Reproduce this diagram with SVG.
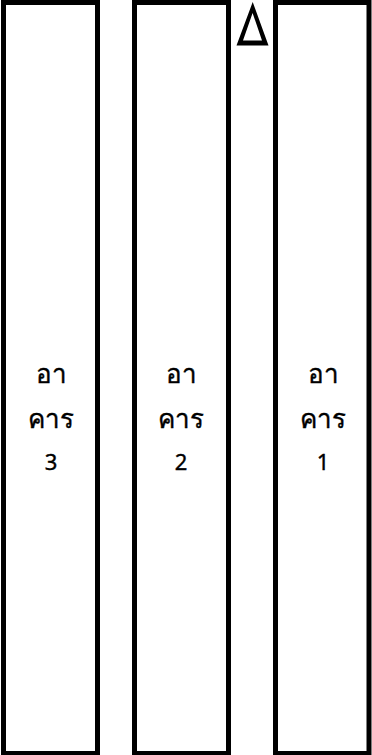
<svg xmlns="http://www.w3.org/2000/svg" width="372" height="755" viewBox="0 0 372 755">
<style>
.b{fill:#fff;stroke:#000;stroke-width:5}
.t{font-family:"Noto Sans","DejaVu Sans",sans-serif;font-size:26px;fill:#000;stroke:#000;stroke-width:0.4;text-anchor:middle}
.n{font-size:22px}
</style>
<rect width="372" height="755" fill="#fff"/>
<g id="building3">
<rect class="b" x="3.5" y="2.5" width="94" height="751"/>
<text class="t" x="51" y="383">อา</text>
<text class="t" x="51" y="428">คาร</text>
<text class="t n" x="51" y="470">3</text>
</g>
<g id="building2">
<rect class="b" x="134.5" y="2.5" width="94" height="751"/>
<text class="t" x="181" y="383">อา</text>
<text class="t" x="181" y="428">คาร</text>
<text class="t n" x="181" y="470">2</text>
</g>
<g id="building1">
<rect class="b" x="275.5" y="2.5" width="93.5" height="751"/>
<text class="t" x="323" y="383">อา</text>
<text class="t" x="323" y="428">คาร</text>
<text class="t n" x="323" y="470">1</text>
</g>
<g id="north-marker">
<path d="M252.7 2 L236.5 45.5 L268.5 45.5 Z M252.6 13 L243 40.5 L262 40.5 Z" fill="#000" fill-rule="evenodd"/>
</g>
<g id="connectors"></g>
</svg>
